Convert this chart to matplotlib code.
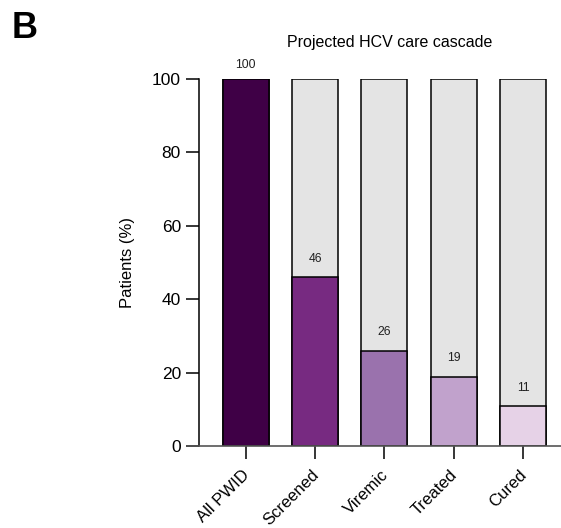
import matplotlib
matplotlib.use("Agg")
import matplotlib.pyplot as plt
from matplotlib.transforms import ScaledTranslation

plt.rcParams["font.family"] = ["Liberation Sans", "DejaVu Sans"]

# Care cascade steps and the share of patients reaching each one
stages = ["All PWID", "Screened", "Viremic", "Treated", "Cured"]
percent = [100, 46, 26, 19, 11]
total = [100, 100, 100, 100, 100]
bar_colors = ["#3f0046", "#772a81", "#9a72ad", "#c1a2cc", "#e6d2e7"]
y_ticks = [0, 20, 40, 60, 80, 100]

fig = plt.figure(figsize=(5.61, 5.28), dpi=100)
ax = fig.add_axes([0.3556, 0.1544, 0.9964 - 0.3556, 0.8513 - 0.1544])

x = list(range(len(stages)))
width = 0.66

# grey remainder bars, then the coloured share on top
ax.bar(x, total, width=width, color="#e4e4e4", edgecolor="black", linewidth=1.1, zorder=2)
ax.bar(x, percent, width=width, color=bar_colors, edgecolor="black", linewidth=1.1, zorder=3)

for xi, v in zip(x, percent):
    ypos = min(v + 5, 103.6)
    ax.text(xi, ypos, f"{v}", ha="center", va="center", fontsize=8.8,
            color="#222222", clip_on=False, zorder=4)

ax.set_xlim(-0.668, 4.52)
ax.set_ylim(0, 100)
ax.set_yticks(y_ticks)
ax.set_xticks(x)
ax.set_xticklabels(stages, rotation=45, ha="right", va="top",
                   rotation_mode="anchor", fontsize=12)
ax.tick_params(axis="y", length=9.4, width=1.1, labelsize=12.5, pad=4)
ax.tick_params(axis="x", length=9.4, width=1.1, pad=5)

# nudge the slanted category labels so their ends sit under the ticks
shift = ScaledTranslation(-4 / 100, -1 / 100, fig.dpi_scale_trans)
for lab in ax.get_xticklabels():
    lab.set_transform(lab.get_transform() + shift)

for side in ["top", "right", "bottom"]:
    ax.spines[side].set_visible(False)
ax.spines["left"].set_linewidth(1.1)

# baseline running slightly past the y axis
ax.axhline(0, xmin=-0.034, xmax=1.01, color="#555555", linewidth=1.2,
           clip_on=False, zorder=5)

ax.set_ylabel("Patients (%)", fontsize=12, labelpad=12)

fig.text(390 / 561, 1 - 42 / 528, "Projected HCV care cascade",
         ha="center", va="center", fontsize=11.5)
fig.text(12 / 561, 1 - 28 / 528, "B", ha="left", va="center",
         fontsize=26, fontweight="bold")

fig.savefig("out.png", dpi=100)
